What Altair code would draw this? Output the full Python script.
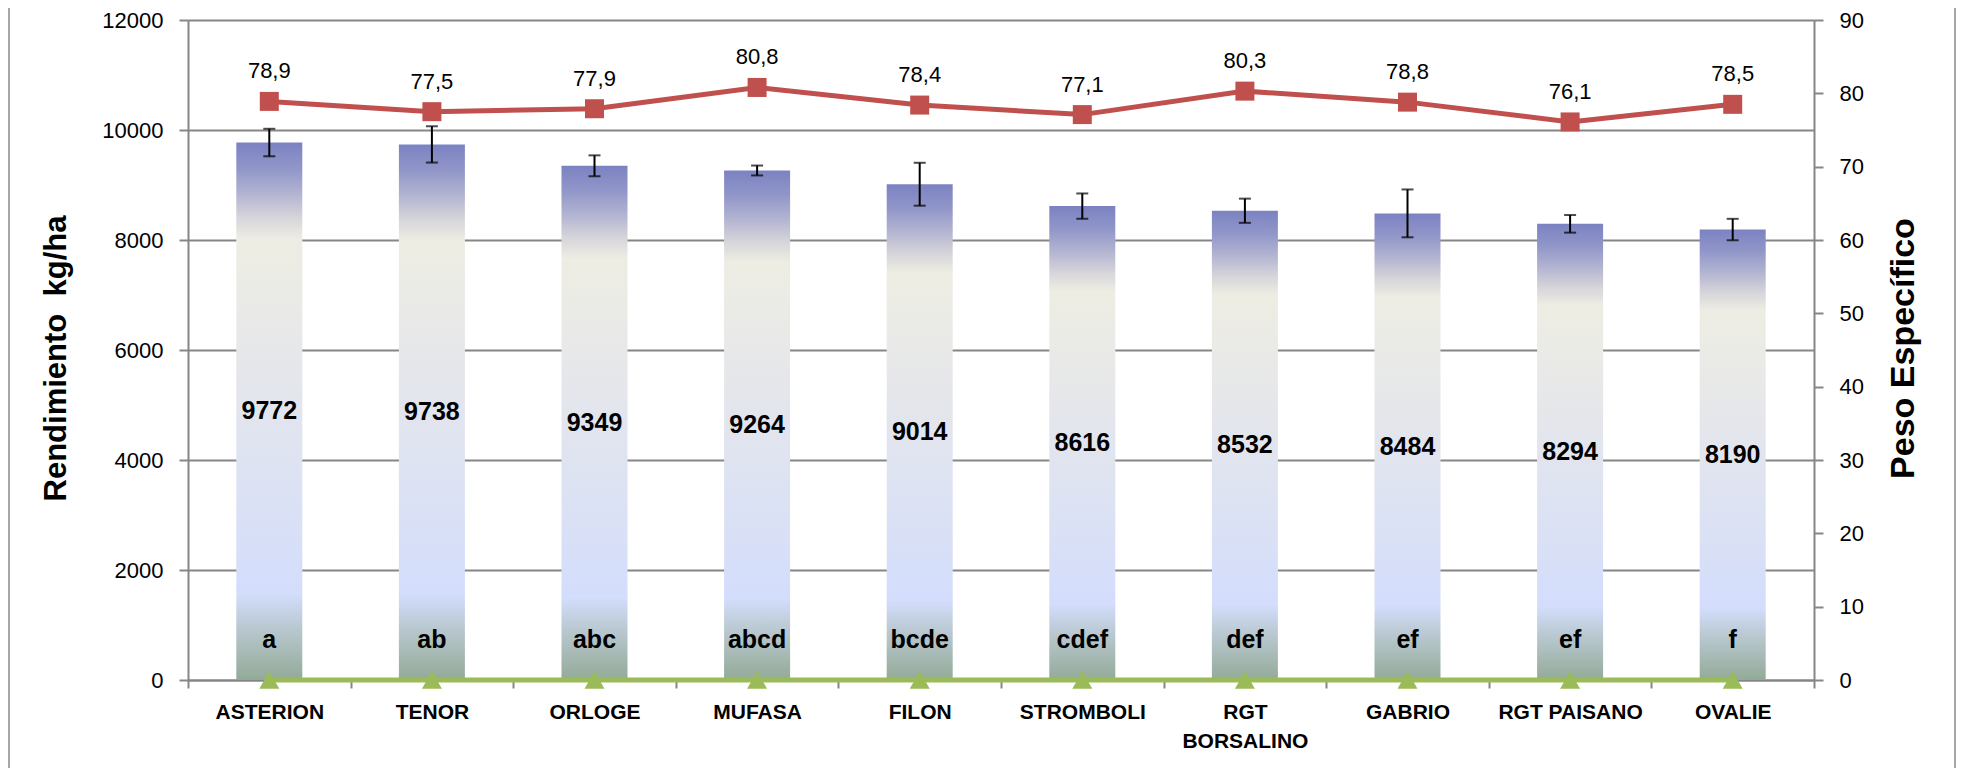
import altair as alt
import pandas as pd

# ---- data ----
variedades = ["ASTERION", "TENOR", "ORLOGE", "MUFASA", "FILON", "STROMBOLI",
              "RGT BORSALINO", "GABRIO", "RGT PAISANO", "OVALIE"]
rendimiento = [9772, 9738, 9349, 9264, 9014, 8616, 8532, 8484, 8294, 8190]
error_rend = [250, 330, 190, 90, 390, 230, 220, 435, 160, 195]
peso_especifico = [78.9, 77.5, 77.9, 80.8, 78.4, 77.1, 80.3, 78.8, 76.1, 78.5]
letras = ["a", "ab", "abc", "abcd", "bcde", "cdef", "def", "ef", "ef", "f"]
serie_base = [0, 0, 0, 0, 0, 0, 0, 0, 0, 0]

left_ticks = [0, 2000, 4000, 6000, 8000, 10000, 12000]
right_ticks = [0, 10, 20, 30, 40, 50, 60, 70, 80, 90]

df = pd.DataFrame({
    "var": variedades,
    "rend": rendimiento,
    "err": error_rend,
    "peso": peso_especifico,
    "letra": letras,
    "base": serie_base,
})
df["lo"] = df["rend"] - df["err"]
df["hi"] = df["rend"] + df["err"]
df["mid"] = df["rend"] / 2
df["peso_lbl"] = df["peso"].map(lambda v: f"{v:.1f}".replace(".", ","))

W, H = 1626, 660
GRAY = "#868686"
FONT = "Liberation Sans"

base = alt.Chart(df)

xenc = alt.X(
    "var:N", sort=variedades,
    scale=alt.Scale(paddingInner=0, paddingOuter=0),
    axis=alt.Axis(
        title=None, labelAngle=0, labelFontWeight="bold", labelFontSize=21,
        labelColor="black", tickBand="extent", tickSize=8, tickColor=GRAY,
        tickWidth=2, domainColor=GRAY, domainWidth=2, labelPadding=13,
        labelLineHeight=29, grid=False, labelFont=FONT,
        labelExpr="length(datum.label) > 12 ? split(datum.label, ' ') : datum.label",
    ),
)
xplain = alt.X("var:N", sort=variedades)

yleft_scale = alt.Scale(domain=[0, 12000])
yright_scale = alt.Scale(domain=[0, 90])

gradient = alt.Gradient(
    gradient="linear", x1=0, x2=0, y1=0, y2=1,
    stops=[
        alt.GradientStop(color="#7b82c2", offset=0.0),
        alt.GradientStop(color="#9297c9", offset=0.05),
        alt.GradientStop(color="#b6b7d2", offset=0.10),
        alt.GradientStop(color="#d6d5da", offset=0.14),
        alt.GradientStop(color="#eeede3", offset=0.18),
        alt.GradientStop(color="#e6e7ea", offset=0.40),
        alt.GradientStop(color="#dce2f4", offset=0.65),
        alt.GradientStop(color="#d3ddfc", offset=0.84),
        alt.GradientStop(color="#bac9d2", offset=0.90),
        alt.GradientStop(color="#93aa97", offset=1.0),
    ],
)

left_axis = alt.Axis(
    values=left_ticks, format="d", grid=True, gridColor=GRAY, gridWidth=2,
    gridOpacity=1, domainColor=GRAY, domainWidth=2, tickColor=GRAY, tickWidth=2,
    tickSize=9, labelPadding=16, labelFontSize=22, labelColor="black", labelFont=FONT,
    title="Rendimiento\u00a0 kg/ha", titleFontSize=31, titleFontWeight="bold",
    titleFont=FONT, titleColor="black",
    titleX=-132, titleY=338, titleAngle=270, titleAlign="center",
    titleBaseline="middle",
)

# bars carry the left axis; other left-scale layers are drawn on the same scale
bars = base.mark_bar(size=66, color=gradient).encode(
    x=xenc,
    y=alt.Y("rend:Q", scale=yleft_scale, axis=left_axis),
)
err_rule = base.mark_rule(color="black", strokeWidth=2).encode(
    x=xplain, y=alt.Y("lo:Q", scale=yleft_scale), y2="hi:Q"
)
cap_lo = base.mark_tick(orient="horizontal", size=12, thickness=2, color="black").encode(
    x=xplain, y=alt.Y("lo:Q", scale=yleft_scale)
)
cap_hi = base.mark_tick(orient="horizontal", size=12, thickness=2, color="black").encode(
    x=xplain, y=alt.Y("hi:Q", scale=yleft_scale)
)
val_lbl = base.mark_text(fontSize=25, fontWeight="bold", color="black", font=FONT,
                         baseline="middle").encode(
    x=xplain, y=alt.Y("mid:Q", scale=yleft_scale), text="rend:Q"
)
let_lbl = base.mark_text(fontSize=25, fontWeight="bold", color="black", font=FONT,
                         baseline="middle", dy=-40).encode(
    x=xplain, y=alt.Y("base:Q", scale=yleft_scale), text="letra:N"
)

frame_l = base.mark_rule(color="#a6a6a6", strokeWidth=2).encode(
    x=alt.value(-179), y=alt.value(-12), y2=alt.value(H + 90)
)
frame_r = base.mark_rule(color="#a6a6a6", strokeWidth=2).encode(
    x=alt.value(1767), y=alt.value(-12), y2=alt.value(H + 90)
)

left = alt.layer(bars, err_rule, cap_lo, cap_hi, val_lbl, let_lbl)

right_axis = alt.Axis(
    orient="right", values=right_ticks, grid=False, domainColor=GRAY,
    domainWidth=2, tickColor=GRAY, tickWidth=2, tickSize=9, labelPadding=16,
    labelFontSize=22, labelColor="black", labelFont=FONT,
    title="Peso Específico", titleFontSize=34, titleFontWeight="bold",
    titleFont=FONT, titleColor="black",
    titleX=89, titleY=328, titleAngle=270, titleAlign="center",
    titleBaseline="middle",
)

line = base.mark_line(color="#c0504d", strokeWidth=5).encode(
    x=xplain, y=alt.Y("peso:Q", scale=yright_scale, axis=right_axis),
)
pts = base.mark_point(shape="square", size=361, filled=True, opacity=1,
                      color="#c0504d").encode(
    x=xplain, y=alt.Y("peso:Q", scale=yright_scale)
)
peso_lbl = base.mark_text(fontSize=22, color="black", font=FONT, baseline="middle",
                          dy=-30).encode(
    x=xplain, y=alt.Y("peso:Q", scale=yright_scale), text="peso_lbl:N"
)
gline = base.mark_line(color="#9bbb59", strokeWidth=5).encode(
    x=xplain, y=alt.Y("base:Q", scale=yright_scale)
)
gpts = base.mark_point(shape="triangle-up", size=400, filled=True, opacity=1,
                       color="#9bbb59").encode(
    x=xplain, y=alt.Y("base:Q", scale=yright_scale)
)

right = alt.layer(line, pts, peso_lbl, gline, gpts)

chart = alt.layer(left, right, frame_l, frame_r).resolve_scale(y="independent").properties(
    width=W, height=H,
    autosize=alt.AutoSizeParams(type="none"),
    padding={"left": 180, "top": 12, "right": 143, "bottom": 88},
).configure_view(strokeWidth=0).configure(font=FONT)

chart.save("out.html", embed_options={"renderer": "svg", "actions": False})
